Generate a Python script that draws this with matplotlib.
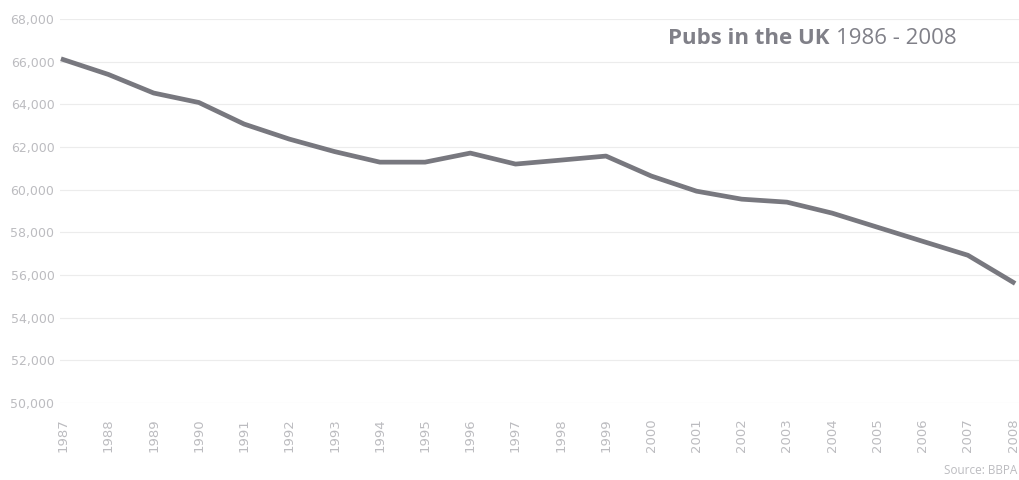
import numpy as np
import matplotlib.pyplot as plt

# --- data (number of pubs per year) ---
years = [1987, 1988, 1989, 1990, 1991, 1992, 1993, 1994, 1995, 1996, 1997,
         1998, 1999, 2000, 2001, 2002, 2003, 2004, 2005, 2006, 2007, 2008]
pubs = [66100, 65400, 64530, 64085, 63075, 62370, 61785, 61290, 61290, 61715, 61200,
        61385, 61575, 60640, 59930, 59555, 59415, 58900, 58240, 57580, 56925, 55660]
y_ticks = [50000, 52000, 54000, 56000, 58000, 60000, 62000, 64000, 66000, 68000]

W, H = 1019, 480
fig = plt.figure(figsize=(W / 100, H / 100), dpi=100)
plt.rcParams['font.family'] = ['Open Sans', 'DejaVu Sans']

# axes placed in pixels
left, right, bottom, top = 60, 1019, 77, 461
ax = fig.add_axes([left / W, bottom / H, (right - left) / W, (top - bottom) / H])

ax.plot(years, pubs, color='#78787f', linewidth=3.4, solid_joinstyle='round')

ax.set_xlim(1986.93, 2008.13)
ax.set_ylim(50000, 68000)
ax.set_xticks(years)
ax.set_xticklabels([str(y) for y in years], rotation=90, fontsize=9.5,
                   color='#bcbcc0', family='DejaVu Sans')
ax.set_yticks(y_ticks)
ax.set_yticklabels([f'{v:,}' for v in y_ticks], fontsize=9,
                   color='#bcbcc0', family='DejaVu Sans')
ax.tick_params(axis='both', length=0)
ax.tick_params(axis='x', pad=11)
ax.tick_params(axis='y', pad=4)

ax.grid(axis='y', color='#ececec', linewidth=0.8)
ax.set_axisbelow(True)
for s in ax.spines.values():
    s.set_visible(False)

# title: bold part + regular part
renderer = fig.canvas.get_renderer()
t1 = fig.text(668 / W, 1 - 38 / H, 'Pubs in the UK', fontsize=16, fontweight='bold',
              color='#808088', va='center', ha='left')
bb = t1.get_window_extent(renderer)
fig.text((bb.x1 + 6) / W, 1 - 38 / H, '1986 - 2008', fontsize=16,
         color='#808088', va='center', ha='left')

fig.text(1017 / W, 1 - 471 / H, 'Source: BBPA', fontsize=8.5, color='#bcbcc0',
         ha='right', va='center')

fig.savefig('out.png', dpi=100)
